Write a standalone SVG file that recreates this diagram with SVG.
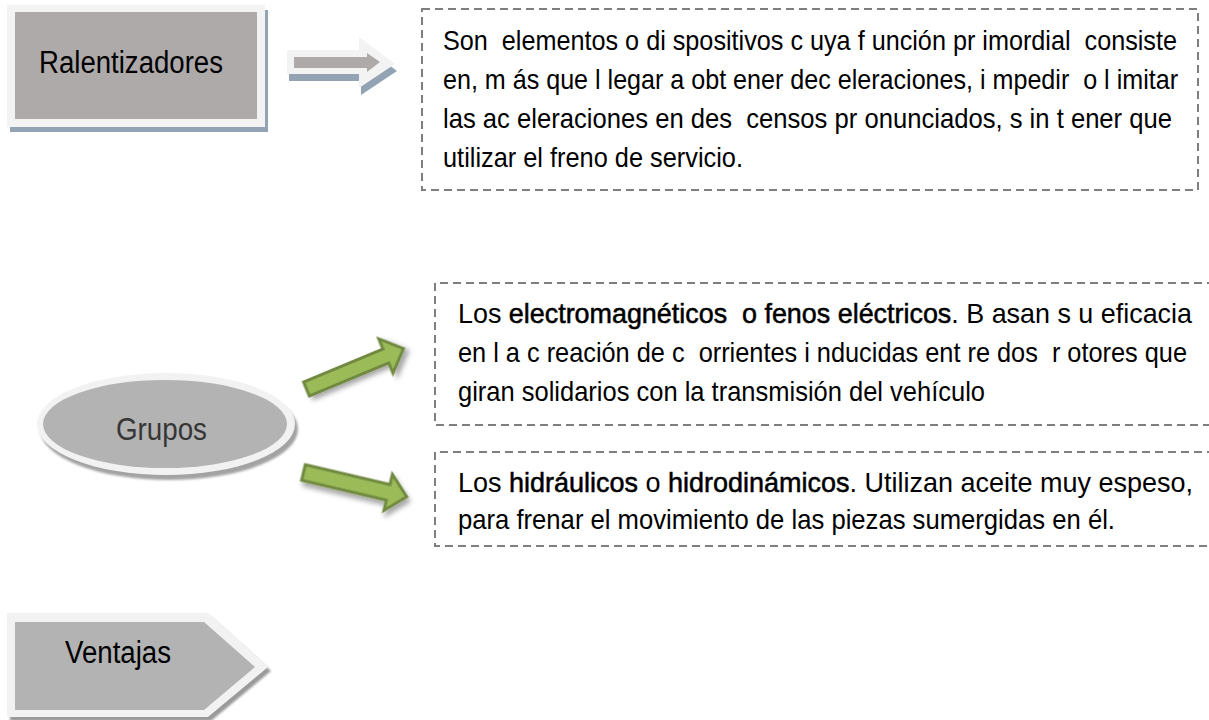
<svg xmlns="http://www.w3.org/2000/svg" width="1209" height="720" viewBox="0 0 1209 720">
<defs>
<style>
.body{font-family:'Liberation Sans Narrow','Liberation Sans',Arial,sans-serif;font-size:23.5px;fill:#000;}
.title{font-family:'Liberation Sans Narrow','Liberation Sans',Arial,sans-serif;font-size:26px;fill:#000;}
.b{stroke:#000;stroke-width:0.45;}
.dash{fill:none;stroke:#7f7f7f;stroke-width:2;stroke-dasharray:8 5;}
.green{fill:#9bbb59;stroke:#71893f;stroke-width:3;stroke-linejoin:miter;}
</style>
<filter id="ds" x="-20%" y="-40%" width="150%" height="190%">
<feDropShadow dx="3" dy="4" stdDeviation="2.5" flood-color="#000" flood-opacity="0.35"/>
</filter>
<filter id="blur1"><feGaussianBlur stdDeviation="1.2"/></filter>
</defs>
<rect width="1209" height="720" fill="#fff"/>

<g id="ralentizadores">
<rect x="10" y="10" width="258" height="122" fill="#93a3b4"/>
<rect x="7" y="5" width="258" height="122" fill="#f3f3f3"/>
<rect x="15" y="12" width="242" height="107" fill="#aeaaaa"/>
<text class="title" transform="matrix(1 0 0 1.2 39 73)" x="0" y="0" textLength="184" lengthAdjust="spacingAndGlyphs">Ralentizadores</text>
</g>

<g id="definicion">
<rect class="dash" x="422" y="9" width="776" height="181"/>
<text class="body" xml:space="preserve" transform="matrix(1 0 0 1.2 443 50)" x="0" y="0" textLength="734" lengthAdjust="spacingAndGlyphs">Son  elementos o di spositivos c uya f unción pr imordial  consiste</text>
<text class="body" xml:space="preserve" transform="matrix(1 0 0 1.2 443 89)" x="0" y="0" textLength="735" lengthAdjust="spacingAndGlyphs">en, m ás que l legar a obt ener dec eleraciones, i mpedir  o l imitar</text>
<text class="body" xml:space="preserve" transform="matrix(1 0 0 1.2 443 128)" x="0" y="0" textLength="729" lengthAdjust="spacingAndGlyphs">las ac eleraciones en des  censos pr onunciados, s in t ener que</text>
<text class="body" xml:space="preserve" transform="matrix(1 0 0 1.2 443 167)" x="0" y="0" textLength="300" lengthAdjust="spacingAndGlyphs">utilizar el freno de servicio.</text>
</g>

<g id="grupos">
<ellipse cx="169" cy="429" rx="129" ry="51" fill="#a3a3a3" filter="url(#blur1)"/>
<ellipse cx="166" cy="424" rx="129" ry="51" fill="#f2f2f2"/>
<ellipse cx="165" cy="424" rx="122" ry="44" fill="#b3b3b3"/>
<text class="title" transform="matrix(1 0 0 1.2 116 440)" x="0" y="0" textLength="91" lengthAdjust="spacingAndGlyphs" style="fill:#363636">Grupos</text>
</g>

<g id="electromagneticos">
<path class="dash" d="M1215 283 H435 V425 H1215"/>
<text class="body" xml:space="preserve" transform="matrix(1 0 0 1.2 458 323)" x="0" y="0" textLength="734" lengthAdjust="spacingAndGlyphs">Los <tspan class="b">electromagnéticos  o fenos eléctricos</tspan>. B asan s u eficacia</text>
<text class="body" xml:space="preserve" transform="matrix(1 0 0 1.2 458 362)" x="0" y="0" textLength="729" lengthAdjust="spacingAndGlyphs">en l a c reación de c  orrientes i nducidas ent re dos  r otores que</text>
<text class="body" xml:space="preserve" transform="matrix(1 0 0 1.2 458 401)" x="0" y="0" textLength="527" lengthAdjust="spacingAndGlyphs">giran solidarios con la transmisión del vehículo</text>
</g>

<g id="hidraulicos">
<path class="dash" d="M1215 452 H435 V546 H1215"/>
<text class="body" xml:space="preserve" transform="matrix(1 0 0 1.2 458 492)" x="0" y="0" textLength="735" lengthAdjust="spacingAndGlyphs">Los <tspan class="b">hidráulicos</tspan> o <tspan class="b">hidrodinámicos</tspan>. Utilizan aceite muy espeso,</text>
<text class="body" xml:space="preserve" transform="matrix(1 0 0 1.2 458 529)" x="0" y="0" textLength="657" lengthAdjust="spacingAndGlyphs">para frenar el movimiento de las piezas sumergidas en él.</text>
</g>

<g id="ventajas">
<polygon points="10,617 211,617 271,671 211,721 10,721" fill="#9a9a9a" filter="url(#blur1)"/>
<polygon points="7,613 208,613 268,667 208,717 7,717" fill="#f2f2f2"/>
<polygon points="15,622 204,622 255,667 204,710 15,710" fill="#b3b3b3"/>
<text class="title" transform="matrix(1 0 0 1.2 65 663)" x="0" y="0" textLength="106" lengthAdjust="spacingAndGlyphs">Ventajas</text>
</g>

<g id="connectors">
<polygon points="289,57 361,57 361,44 397,71 361,95 361,81 289,81" fill="#93a3b4"/>
<polygon points="287,50 359,50 359,37 395,64 359,88 359,74 287,74" fill="#f3f3f3"/>
<polygon points="294,57 367,57 367,53 380,62 367,72 367,68 294,68" fill="#aeaaaa"/>
<polygon class="green" filter="url(#ds)" transform="translate(306.5,389) rotate(-22.6)" points="0,-7.5 86,-7.5 86,-18.5 105,0 86,18.5 86,7.5 0,7.5"/>
<polygon class="green" filter="url(#ds)" transform="translate(303.5,472.5) rotate(13.2)" points="0,-8 87,-8 87,-18.5 106,0 87,18.5 87,8 0,8"/>
</g>
</svg>
